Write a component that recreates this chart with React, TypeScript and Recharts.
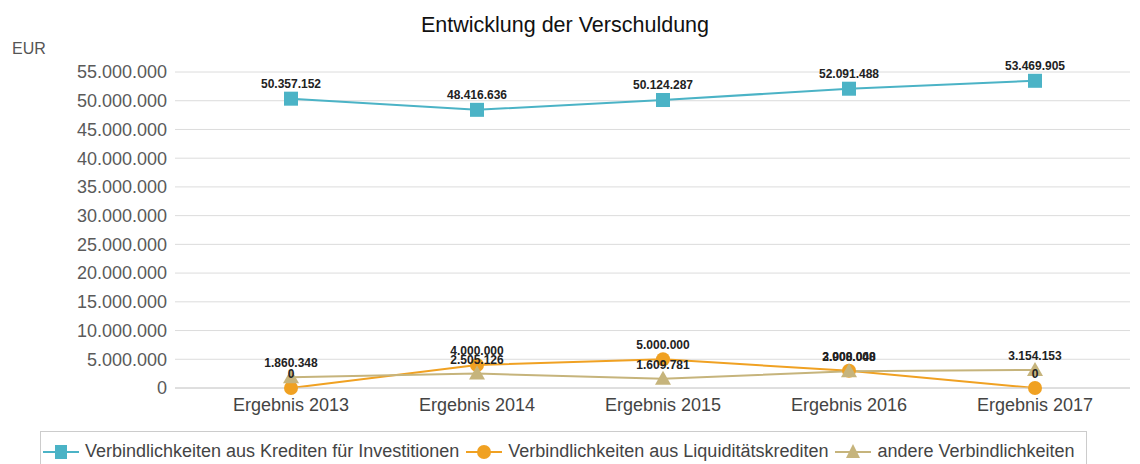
import { CartesianGrid, LabelList, Line, LineChart, XAxis, YAxis } from 'recharts';

const categories = ['Ergebnis 2013', 'Ergebnis 2014', 'Ergebnis 2015', 'Ergebnis 2016', 'Ergebnis 2017'];
const investitionen = [50357152, 48416636, 50124287, 52091488, 53469905];
const liquiditaet = [0, 4000000, 5000000, 3000000, 0];
const andere = [1860348, 2505126, 1609781, 2908048, 3154153];
const yTicks = [0, 5000000, 10000000, 15000000, 20000000, 25000000, 30000000, 35000000, 40000000, 45000000, 50000000, 55000000];

const TEAL = '#4bb3c6';
const ORANGE = '#f0a122';
const TAN = '#c6b47c';

const data = categories.map((name, i) => ({
  name,
  inv: investitionen[i],
  liq: liquiditaet[i],
  oth: andere[i],
}));

const fmt = (v: number) => v.toLocaleString('de-DE');

const Square = (props: any) => {
  const { cx, cy, key } = props;
  return <rect key={key} x={cx - 7} y={cy - 7} width={14} height={14} fill={TEAL} />;
};
const Circle = (props: any) => {
  const { cx, cy, key } = props;
  return <circle key={key} cx={cx} cy={cy} r={7} fill={ORANGE} />;
};
const Triangle = (props: any) => {
  const { cx, cy, key } = props;
  return <path key={key} d={`M${cx},${cy - 8} L${cx + 8},${cy + 6} L${cx - 8},${cy + 6} Z`} fill={TAN} />;
};

const labelStyle = { fontSize: 12, fontWeight: 700, fill: '#222' };

function LegendIcon({ color, shape }: { color: string; shape: string }) {
  return (
    <svg width={36} height={18} style={{ verticalAlign: 'middle', marginRight: 6 }}>
      <line x1={0} y1={9} x2={36} y2={9} stroke={color} strokeWidth={2} />
      {shape === 'square' && <rect x={12} y={2} width={12} height={14} fill={color} />}
      {shape === 'circle' && <circle cx={18} cy={9} r={7} fill={color} />}
      {shape === 'triangle' && <path d="M18,1 L25,15 L11,15 Z" fill={color} />}
    </svg>
  );
}

export default function App() {
  return (
    <div style={{ position: 'absolute', left: 0, top: 0, width: 1140, height: 464, background: '#fff', fontFamily: '"Liberation Sans", Arial, sans-serif', overflow: 'hidden' }}>
      <div style={{ position: 'absolute', left: 0, width: 1130, top: 13, textAlign: 'center', fontSize: 21.5, color: '#111' }}>
        Entwicklung der Verschuldung
      </div>
      <div style={{ position: 'absolute', left: 12, top: 40, fontSize: 16, color: '#555' }}>EUR</div>
      <LineChart width={1140} height={430} data={data} margin={{ top: 72, right: 10, bottom: 12, left: 0 }}>
        <CartesianGrid vertical={false} stroke="#dcdcdc" />
        <XAxis
          dataKey="name"
          height={30}
          axisLine={{ stroke: '#d0d0d0' }}
          tickLine={false}
          padding={{ left: 116, right: 95 }}
          tick={{ fill: '#444', fontSize: 18 }}
          tickMargin={4}
        />
        <YAxis
          width={175}
          domain={[0, 55000000]}
          ticks={yTicks}
          axisLine={false}
          tickLine={false}
          tickFormatter={fmt}
          tick={{ fill: '#5a5a5a', fontSize: 18 }}
          interval={0}
        />
        <Line dataKey="inv" stroke={TEAL} strokeWidth={2} dot={Square} isAnimationActive={false}>
          <LabelList dataKey="inv" position="top" offset={11} formatter={fmt} style={labelStyle} />
        </Line>
        <Line dataKey="liq" stroke={ORANGE} strokeWidth={2} dot={Circle} isAnimationActive={false}>
          <LabelList dataKey="liq" position="top" offset={10} formatter={fmt} style={labelStyle} />
        </Line>
        <Line dataKey="oth" stroke={TAN} strokeWidth={2} dot={Triangle} isAnimationActive={false}>
          <LabelList dataKey="oth" position="top" offset={10} formatter={fmt} style={labelStyle} />
        </Line>
      </LineChart>
      <div style={{ position: 'absolute', left: 40, top: 431, width: 1047, height: 40, border: '1px solid #ccc', boxSizing: 'border-box', display: 'flex', alignItems: 'flex-start', paddingTop: 9, paddingLeft: 2, fontSize: 18, color: '#444', whiteSpace: 'nowrap' }}>
        <span style={{ marginRight: 7 }}><LegendIcon color={TEAL} shape="square" />Verbindlichkeiten aus Krediten für Investitionen</span>
        <span style={{ marginRight: 7 }}><LegendIcon color={ORANGE} shape="circle" />Verbindlichkeiten aus Liquiditätskrediten</span>
        <span><LegendIcon color={TAN} shape="triangle" />andere Verbindlichkeiten</span>
      </div>
    </div>
  );
}
